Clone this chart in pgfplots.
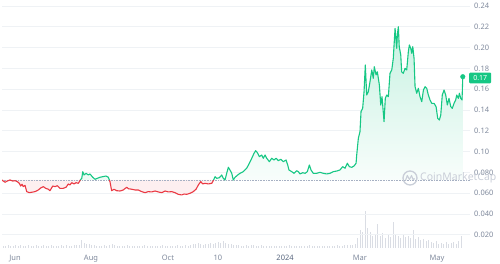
\documentclass[border=0pt]{standalone}
\usepackage{pgfplots}
\pgfplotsset{compat=1.18}
\usepackage{pgfplotstable}
\usepackage{fontspec}
\setmainfont{Noto Sans}
\definecolor{cmgreen}{HTML}{16C784}
\definecolor{cmred}{HTML}{EA3943}
\definecolor{labgray}{HTML}{808A9D}
\definecolor{darklab}{HTML}{58667E}
\definecolor{gridc}{HTML}{EFF2F5}
\definecolor{volc}{HTML}{DADDE4}
\definecolor{dotc}{HTML}{A6B0C3}
\definecolor{wmark}{HTML}{C9CED8}

% price; rows with v=0.0727 at d=-7.9, 54.0, 76.9, 159.25 are the crossings of the opening price
\pgfplotstableread{
d v
-7.9 0.0727
-7.3 0.0720
-5.5 0.0705
-3.7 0.0717
-1.6 0.0727
0.6 0.0717
2.4 0.0720
4.2 0.0711
5.8 0.0695
6.9 0.0669
7.9 0.0686
8.9 0.0663
10.3 0.0676
11.6 0.0615
13.7 0.0605
15.6 0.0609
18.2 0.0615
20.8 0.0631
22.7 0.0650
24.7 0.0663
26.6 0.0647
28.7 0.0638
30.0 0.0624
32.2 0.0669
34.0 0.0663
35.8 0.0672
37.9 0.0647
40.5 0.0647
42.7 0.0657
44.5 0.0689
45.8 0.0679
47.2 0.0701
49.0 0.0689
50.6 0.0701
52.4 0.0695
53.7 0.0720
54.0 0.0727
55.1 0.0743
55.9 0.0807
56.9 0.0775
58.5 0.0791
60.3 0.0775
61.6 0.0785
63.8 0.0753
65.6 0.0734
67.4 0.0743
69.5 0.0753
71.7 0.0759
74.3 0.0765
76.1 0.0753
76.9 0.0727
77.4 0.0711
78.7 0.0624
80.6 0.0638
82.7 0.0624
85.3 0.0621
87.9 0.0631
90.6 0.0657
91.9 0.0643
94.6 0.0638
97.2 0.0631
99.8 0.0631
102.5 0.0615
105.1 0.0605
107.7 0.0615
110.4 0.0612
113.0 0.0621
115.6 0.0612
118.3 0.0605
120.9 0.0621
123.5 0.0612
126.2 0.0615
128.8 0.0605
131.4 0.0589
134.1 0.0583
135.9 0.0592
138.0 0.0589
140.6 0.0599
143.2 0.0615
145.4 0.0638
147.2 0.0679
149.1 0.0711
150.7 0.0689
152.5 0.0695
155.1 0.0689
157.8 0.0695
159.0 0.0720
159.25 0.0727
160.4 0.0759
161.7 0.0743
163.8 0.0749
165.7 0.0775
166.9 0.0743
168.3 0.0727
169.6 0.0791
170.9 0.0849
172.2 0.0823
173.6 0.0791
174.8 0.0727
176.2 0.0753
178.0 0.0772
180.1 0.0791
182.7 0.0807
185.4 0.0840
187.5 0.0888
189.4 0.0936
191.2 0.0984
192.5 0.1009
193.8 0.0990
195.4 0.0951
197.3 0.0967
198.5 0.0936
199.9 0.0967
201.2 0.0936
203.3 0.0903
205.2 0.0936
207.0 0.0919
208.6 0.0936
210.4 0.0913
212.3 0.0926
214.3 0.0903
216.5 0.0919
217.8 0.0871
218.8 0.0823
221.0 0.0807
222.8 0.0791
224.9 0.0816
226.2 0.0807
227.5 0.0785
229.7 0.0797
231.5 0.0791
233.3 0.0807
234.9 0.0871
236.2 0.0823
238.0 0.0791
240.7 0.0791
243.3 0.0801
245.9 0.0791
248.6 0.0785
251.2 0.0791
253.8 0.0807
256.5 0.0813
259.1 0.0823
261.2 0.0855
263.1 0.0840
264.9 0.0888
266.5 0.0855
268.4 0.0849
270.2 0.0862
271.8 0.0888
272.3 0.0967
273.6 0.1128
274.9 0.1191
275.7 0.1384
277.0 0.1416
278.1 0.1576
279.1 0.1833
280.2 0.1544
281.5 0.1576
282.8 0.1672
284.2 0.1785
285.4 0.1705
286.2 0.1816
287.6 0.1737
288.6 0.1768
290.2 0.1640
291.3 0.1448
292.3 0.1528
293.9 0.1288
294.9 0.1513
296.0 0.1544
297.3 0.1528
298.6 0.1753
300.0 0.1785
301.2 0.1897
302.6 0.2185
303.9 0.1993
304.4 0.2121
305.2 0.2201
305.9 0.2009
307.1 0.1929
307.8 0.1768
309.1 0.1753
310.5 0.1801
311.8 0.1785
313.1 0.1961
313.9 0.2025
315.0 0.1993
315.8 0.1945
316.6 0.2009
317.6 0.1897
318.4 0.1624
319.7 0.1561
321.0 0.1609
322.3 0.1528
323.7 0.1480
325.0 0.1592
326.3 0.1624
327.6 0.1609
328.9 0.1544
330.2 0.1496
331.6 0.1464
333.4 0.1464
335.0 0.1432
336.3 0.1320
337.6 0.1304
338.7 0.1352
339.9 0.1544
341.3 0.1592
342.6 0.1544
343.9 0.1448
345.2 0.1512
346.6 0.1432
347.8 0.1416
349.2 0.1464
350.5 0.1496
351.3 0.1544
352.6 0.1512
353.4 0.1561
354.5 0.1512
355.5 0.1496
356.1 0.1720
}\pricetable

\pgfplotstableread{
d vol
-7 2
-5 1.5
-3 2.5
-1 2
1 1.5
3 3
5 2
7 2.5
9 1.5
11 2
13 3
15 2
17 1.5
19 2.5
21 2
23 2
25 3
27 1.5
29 2
31 2.5
33 2
35 1.5
37 2
39 3
41 2
43 2.5
45 2
47 1.5
49 2.5
51 2.5
53 3
55 8
57 5
59 4
61 3.5
63 3
65 2.5
67 2
69 2
71 1.5
73 2.5
75 2
77 3
79 4
81 2.5
83 2
85 2
87 1.5
89 2
91 2.5
93 2
95 1.5
97 2
99 2
101 1.5
103 2
105 2.5
107 2
109 1.5
111 2
113 2
115 1.5
117 2
119 2.5
121 2
123 2
125 2
127 1.5
129 2
131 2.5
133 2
135 2
137 2.5
139 2
141 3
143 3.5
145 4
147 5
149 4
151 3
153 3.5
155 4
157 5
159 4
161 4.5
163 6
165 5
167 7
169 5
171 4
173 3.5
175 3
177 3
179 2.5
181 2
183 2
185 2.5
187 2
189 3
191 2.5
193 2
195 2
197 2.5
199 2
201 2
203 1.5
205 2
207 2
209 1.5
211 2
213 2
215 1.5
217 2
219 2.5
221 2
223 1.5
225 2
227 2
229 1.5
231 2
233 2
235 2.5
237 2
239 1.5
241 2
243 2
245 1.5
247 2
249 2
251 1.5
253 2
255 2
257 2.5
259 2
261 2
263 2.5
265 3
267 2.5
269 3
271 3.5
273 10
275 18
277 16
279 37
281 20
283 16
285 12
287 14
289 24
291 12
293 15
295 10
297 13
299 11
301 26
303 14
305 12
307 10
309 13
311 11
313 12
315 10
317 18
319 9
321 11
323 8
325 9
327 7
329 8
331 6
333 5
335 7
337 4
339 5
341 4
343 6
345 4
347 5
349 6
351 4
353 7
355 12
}\voltable

\begin{document}
\begin{tikzpicture}
\path[use as bounding box] (0pt,0pt) rectangle (500pt,264pt);

% volume
\begin{axis}[at={(2pt,16pt)}, anchor=south west, scale only axis,
  width=468pt, height=40pt, xmin=-7.9, xmax=361.8, ymin=0, ymax=40, hide axis]
\addplot[ycomb, volc, line width=0.9pt, mark=none] table[x=d, y=vol] {\voltable};
\end{axis}

% price
\begin{axis}[at={(2pt,16pt)}, anchor=south west, scale only axis,
  width=468pt, height=242pt, xmin=-7.9, xmax=361.8, ymin=0.0073, ymax=0.24,
  axis line style={draw=none}, major tick style={draw=none},
  ymajorgrids, grid style={gridc, line width=0.7pt},
  ytick={0.02,0.04,0.06,0.08,0.10,0.12,0.14,0.16,0.18,0.20,0.22,0.24},
  yticklabels={0.020,0.040,0.060,0.080,0.10,0.12,0.14,0.16,0.18,0.20,0.22,0.24},
  yticklabel pos=right,
  yticklabel style={anchor=west, inner sep=0pt, xshift=4pt, text=labgray, font=\fontsize{7.5}{9}\selectfont},
  xtick={2.4,62.4,123.2,162.7,215.7,274.9,335.8},
  xticklabels={Jun,Aug,Oct,10,{\textcolor{darklab}{\bfseries 2024}},Mar,May},
  xticklabel style={anchor=base, inner sep=0pt, yshift=-13pt, text=labgray, font=\fontsize{7.5}{9}\selectfont},
]
% fills between price and opening price
\addplot[fill=cmred!8!white, draw=none, restrict x to domain=-8:54.0] table[x=d, y=v] {\pricetable} -- cycle;
\addplot[fill=cmgreen!8!white, draw=none, restrict x to domain=54.0:76.9] table[x=d, y=v] {\pricetable} -- cycle;
\addplot[fill=cmred!8!white, draw=none, restrict x to domain=76.9:159.25] table[x=d, y=v] {\pricetable} -- cycle;
\addplot[top color=cmgreen!24!white, bottom color=cmgreen!3!white, draw=none, restrict x to domain=159.25:400] table[x=d, y=v] {\pricetable} -- (axis cs:356.1,0.0727) -- cycle;
% opening price reference
\addplot[dotc, densely dotted, line width=0.6pt] coordinates {(-7.9,0.0727) (361.8,0.0727)};
% price line
\addplot[cmred, line width=1.1pt, line join=round, restrict x to domain=-8:54.0] table[x=d, y=v] {\pricetable};
\addplot[cmgreen, line width=1.1pt, line join=round, restrict x to domain=54.0:76.9] table[x=d, y=v] {\pricetable};
\addplot[cmred, line width=1.1pt, line join=round, restrict x to domain=76.9:159.25] table[x=d, y=v] {\pricetable};
\addplot[cmgreen, line width=1.1pt, line join=round, restrict x to domain=159.25:400] table[x=d, y=v] {\pricetable};
\end{axis}

% watermark
\draw[wmark, line width=1.3pt] (410pt,86pt) circle (7pt);
\draw[wmark, line width=1.1pt, line join=round] (405.5pt,83.5pt) -- (407.3pt,88.5pt) -- (409.5pt,84.5pt) -- (411.5pt,88.5pt) -- (413.2pt,84.2pt) -- (414.5pt,85.5pt);
\node[anchor=west, inner sep=0pt, text=wmark, font=\fontsize{10.5}{12}\selectfont] at (420pt,86pt) {CoinMarketCap};

\begin{axis}[at={(2pt,16pt)}, anchor=south west, scale only axis,
  width=468pt, height=242pt, xmin=-7.9, xmax=361.8, ymin=0.0073, ymax=0.24,
  hide axis, clip=false]
\addplot[only marks, mark=*, mark size=2.3pt, cmgreen] coordinates {(356.1,0.1720)};
\node[anchor=west, xshift=-1pt, fill=cmgreen, text=white, inner sep=0pt,
  minimum width=22pt, minimum height=10.6pt, rounded corners=1pt,
  font=\fontsize{7}{8}\selectfont\bfseries] at (axis cs:361.8,0.1708) {0.17};
\end{axis}
\end{tikzpicture}
\end{document}
